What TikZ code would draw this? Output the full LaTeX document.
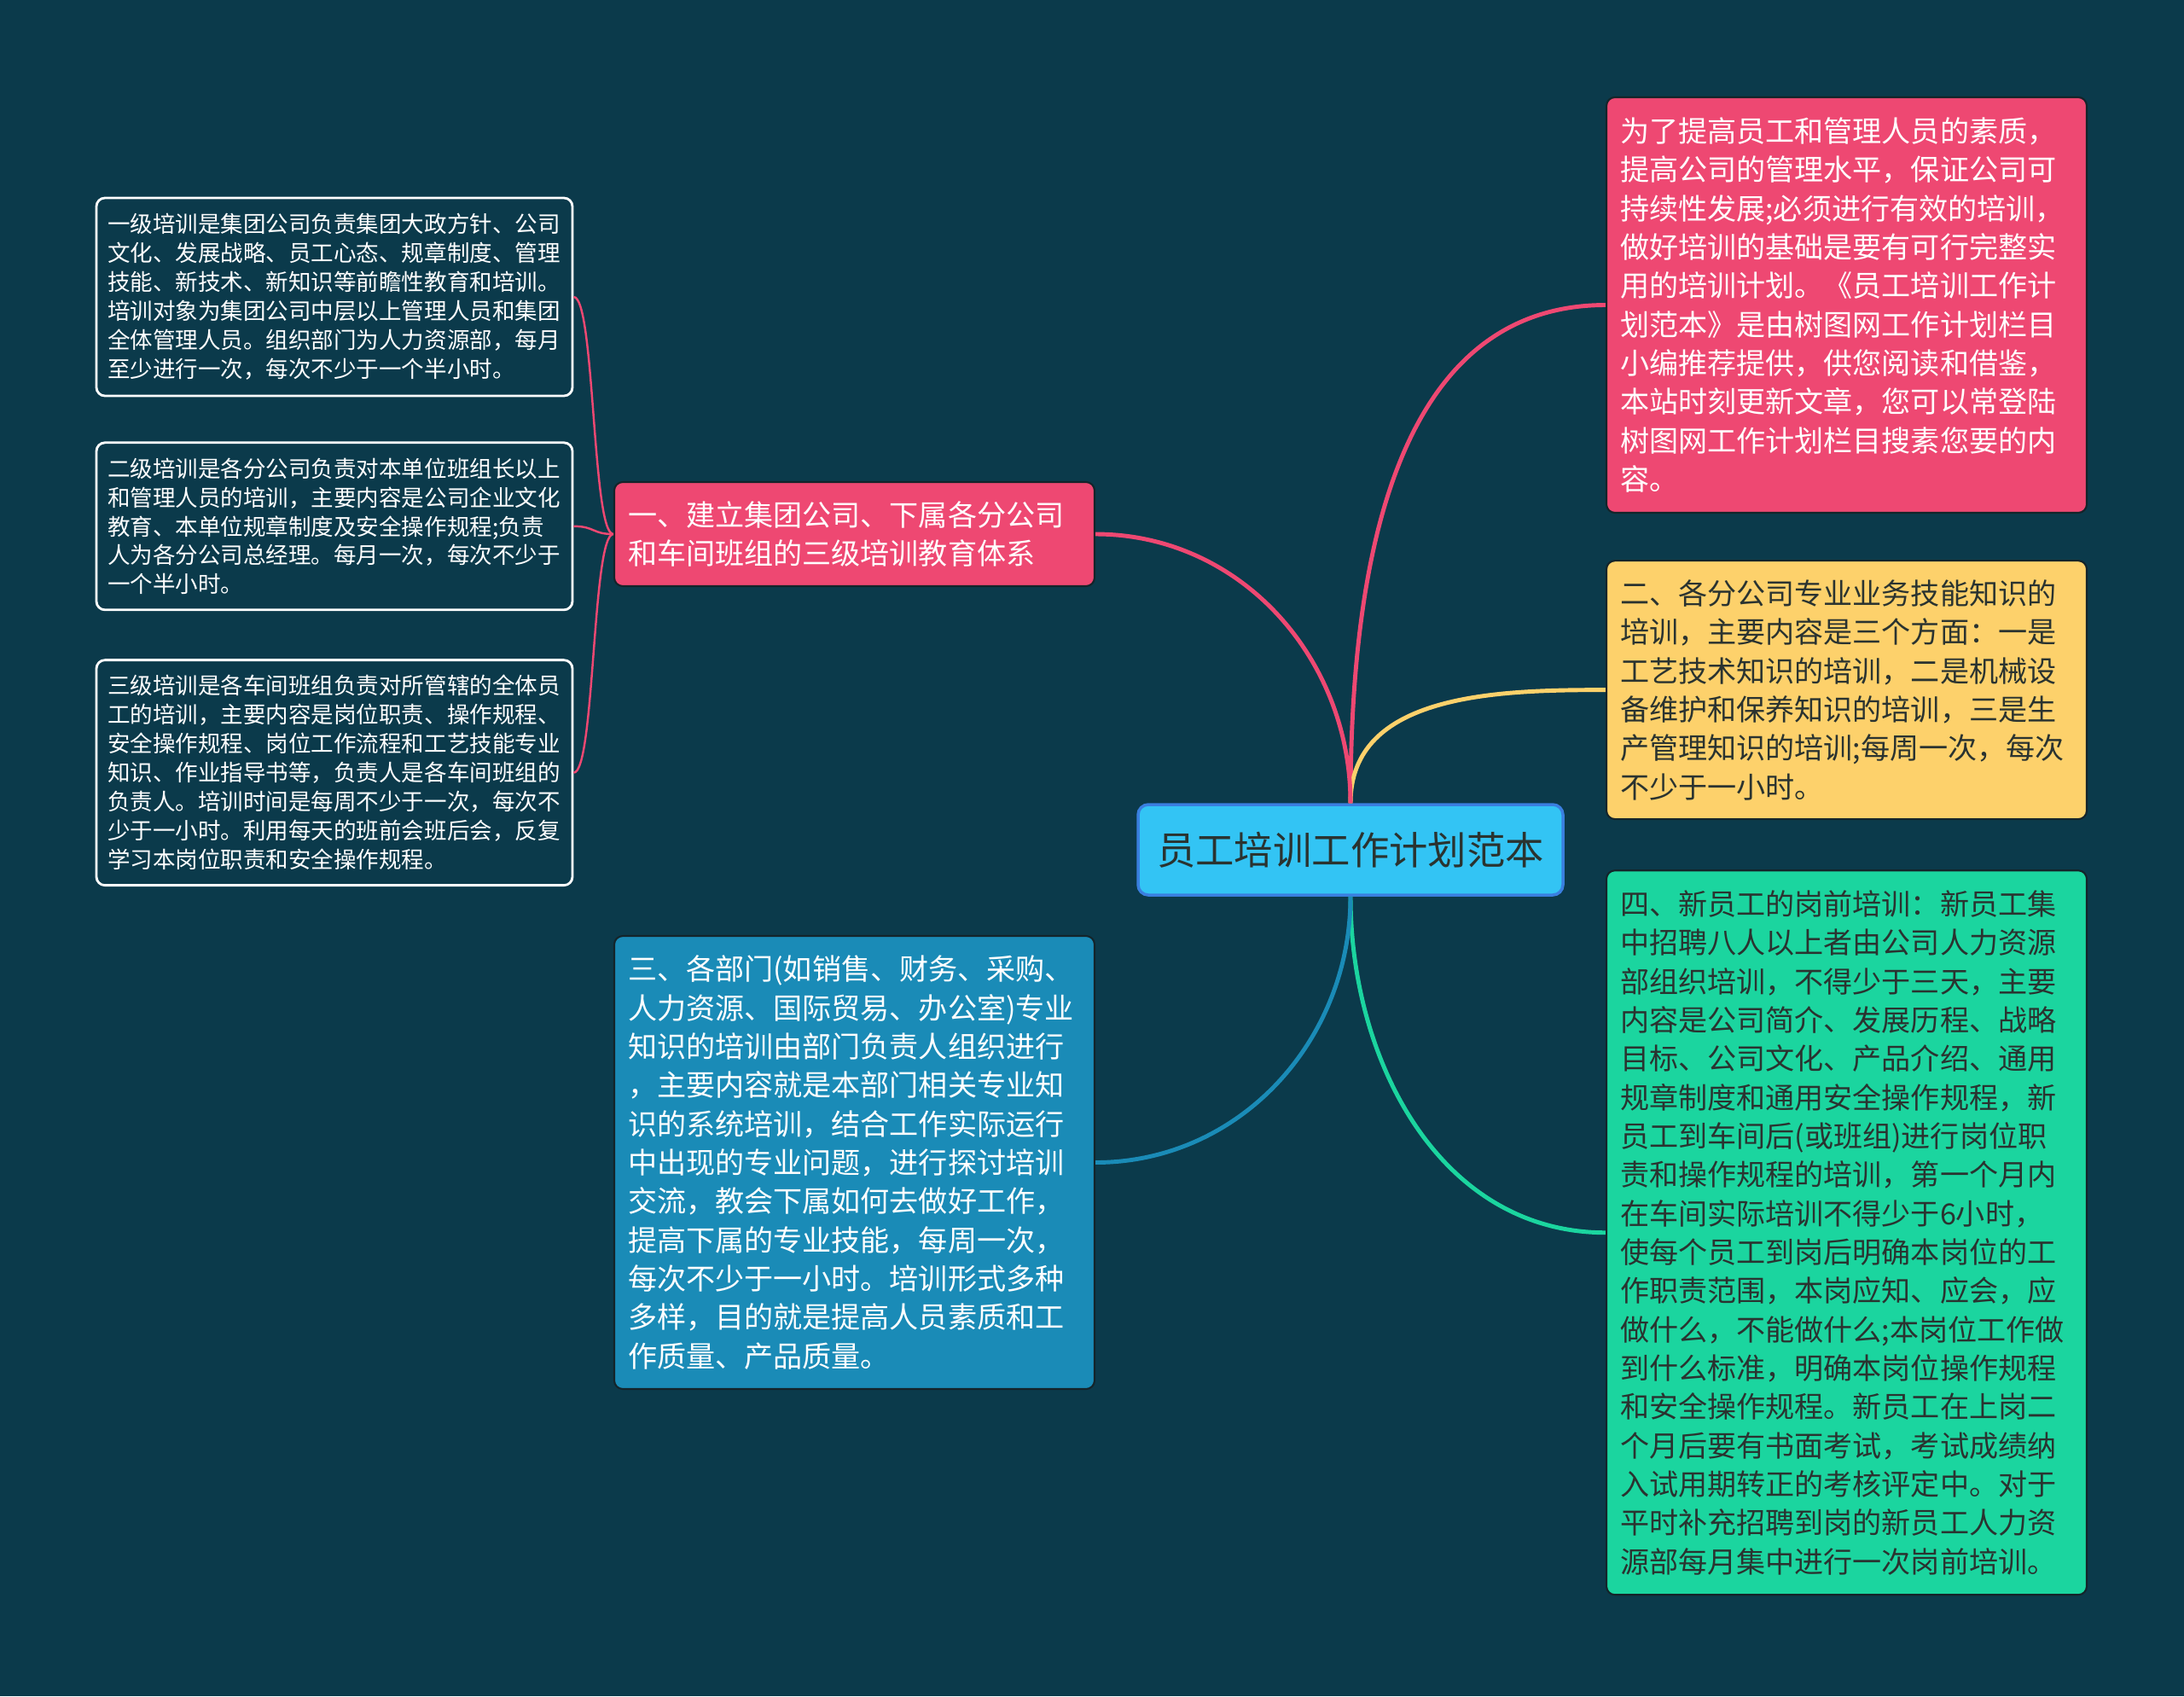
\documentclass[tikz,border=0pt]{standalone}
\usepackage{fontspec}
\setmainfont{Noto Sans CJK SC}
\usepackage{xcolor}
\usetikzlibrary{positioning}

\definecolor{bgcol}{HTML}{0B3A4B}
\definecolor{rootfill}{HTML}{33C4F4}
\definecolor{rootline}{HTML}{3A7FE0}
\definecolor{rosebox}{HTML}{EE4872}
\definecolor{sandbox}{HTML}{FDD16B}
\definecolor{mintbox}{HTML}{1BD59F}
\definecolor{seabox}{HTML}{1A8BB7}
\definecolor{edgeline}{HTML}{14242A}
\definecolor{darktext}{HTML}{2A3330}

\begin{document}
\begin{tikzpicture}[
  rootbox/.style={draw=rootline, line width=1pt, fill=rootfill, rounded corners=0.12cm,
    minimum width=4.98cm, minimum height=1.06cm, text=darktext,
    font=\fontsize{12.9}{15}\selectfont},
  topic/.style={draw=edgeline, line width=0.6pt, rounded corners=0.1cm,
    inner xsep=0.16cm, inner ysep=0.1cm, text width=5.31cm, align=left,
    font=\fontsize{9.7}{12.9}\selectfont},
  leaf/.style={draw=white, line width=0.8pt, rounded corners=0.1cm, text=white,
    inner xsep=0.13cm, inner ysep=0.08cm, text width=5.32cm, align=left,
    font=\fontsize{7.55}{9.67}\selectfont},
  link/.style={line width=1.4pt},
  twig/.style={line width=0.7pt, draw=rosebox},
]
  \fill[bgcol] (0,0) rectangle (25.6,-19.88);

  \node[rootbox] (root) at (15.83,-9.96) {员工培训工作计划范本};

  % right side
  \node[topic, fill=rosebox, text=white, minimum height=4.87cm] (r1) at (21.645,-3.575)
    {为了提高员工和管理人员的素质，\\提高公司的管理水平，保证公司可\\持续性发展;必须进行有效的培训，\\做好培训的基础是要有可行完整实\\用的培训计划。《员工培训工作计\\划范本》是由树图网工作计划栏目\\小编推荐提供，供您阅读和借鉴，\\本站时刻更新文章，您可以常登陆\\树图网工作计划栏目搜素您要的内\\容。};
  \node[topic, fill=sandbox, text=darktext, minimum height=3.03cm, below=0.54cm of r1] (r2)
    {二、各分公司专业业务技能知识的\\培训，主要内容是三个方面：一是\\工艺技术知识的培训，二是机械设\\备维护和保养知识的培训，三是生\\产管理知识的培训;每周一次，每次\\不少于一小时。};
  \node[topic, fill=mintbox, text=darktext, minimum height=8.49cm, below=0.58cm of r2] (r3)
    {四、新员工的岗前培训：新员工集\\中招聘八人以上者由公司人力资源\\部组织培训，不得少于三天，主要\\内容是公司简介、发展历程、战略\\目标、公司文化、产品介绍、通用\\规章制度和通用安全操作规程，新\\员工到车间后(或班组)进行岗位职\\责和操作规程的培训，第一个月内\\在车间实际培训不得少于6小时，\\使每个员工到岗后明确本岗位的工\\作职责范围，本岗应知、应会，应\\做什么，不能做什么;本岗位工作做\\到什么标准，明确本岗位操作规程\\和安全操作规程。新员工在上岗二\\个月后要有书面考试，考试成绩纳\\入试用期转正的考核评定中。对于\\平时补充招聘到岗的新员工人力资\\源部每月集中进行一次岗前培训。};

  % left side
  \node[topic, fill=rosebox, text=white, minimum height=1.22cm] (l1) at (10.015,-6.26)
    {一、建立集团公司、下属各分公司\\和车间班组的三级培训教育体系};
  \node[topic, fill=seabox, text=white, minimum height=5.31cm] (l2) at (10.015,-13.625)
    {三、各部门(如销售、财务、采购、\\人力资源、国际贸易、办公室)专业\\知识的培训由部门负责人组织进行\\，主要内容就是本部门相关专业知\\识的系统培训，结合工作实际运行\\中出现的专业问题，进行探讨培训\\交流，教会下属如何去做好工作，\\提高下属的专业技能，每周一次，\\每次不少于一小时。培训形式多种\\多样，目的就是提高人员素质和工\\作质量、产品质量。};

  \node[leaf, minimum height=2.32cm] (k1) at (3.92,-3.48)
    {一级培训是集团公司负责集团大政方针、公司\\文化、发展战略、员工心态、规章制度、管理\\技能、新技术、新知识等前瞻性教育和培训。\\培训对象为集团公司中层以上管理人员和集团\\全体管理人员。组织部门为人力资源部，每月\\至少进行一次，每次不少于一个半小时。};
  \node[leaf, minimum height=1.96cm, below=0.52cm of k1] (k2)
    {二级培训是各分公司负责对本单位班组长以上\\和管理人员的培训，主要内容是公司企业文化\\教育、本单位规章制度及安全操作规程;负责\\人为各分公司总经理。每月一次，每次不少于\\一个半小时。};
  \node[leaf, minimum height=2.64cm, below=0.56cm of k2] (k3)
    {三级培训是各车间班组负责对所管辖的全体员\\工的培训，主要内容是岗位职责、操作规程、\\安全操作规程、岗位工作流程和工艺技能专业\\知识、作业指导书等，负责人是各车间班组的\\负责人。培训时间是每周不少于一次，每次不\\少于一小时。利用每天的班前会班后会，反复\\学习本岗位职责和安全操作规程。};

  % connectors
  \draw[link, rosebox] (root.north) to[out=90, in=180] (r1.west);
  \draw[link, sandbox] (root.north) to[out=90, in=180] (r2.west);
  \draw[link, mintbox] (root.south) to[out=-90, in=180] (r3.west);
  \draw[link, rosebox] (root.north) to[out=90, in=0] (l1.east);
  \draw[link, seabox] (root.south) to[out=-90, in=0] (l2.east);

  \foreach \k in {k1,k2,k3}
    \draw[twig] (l1.west) .. controls +(-0.25,0) and +(0.25,0) .. (\k.east);
\end{tikzpicture}
\end{document}
